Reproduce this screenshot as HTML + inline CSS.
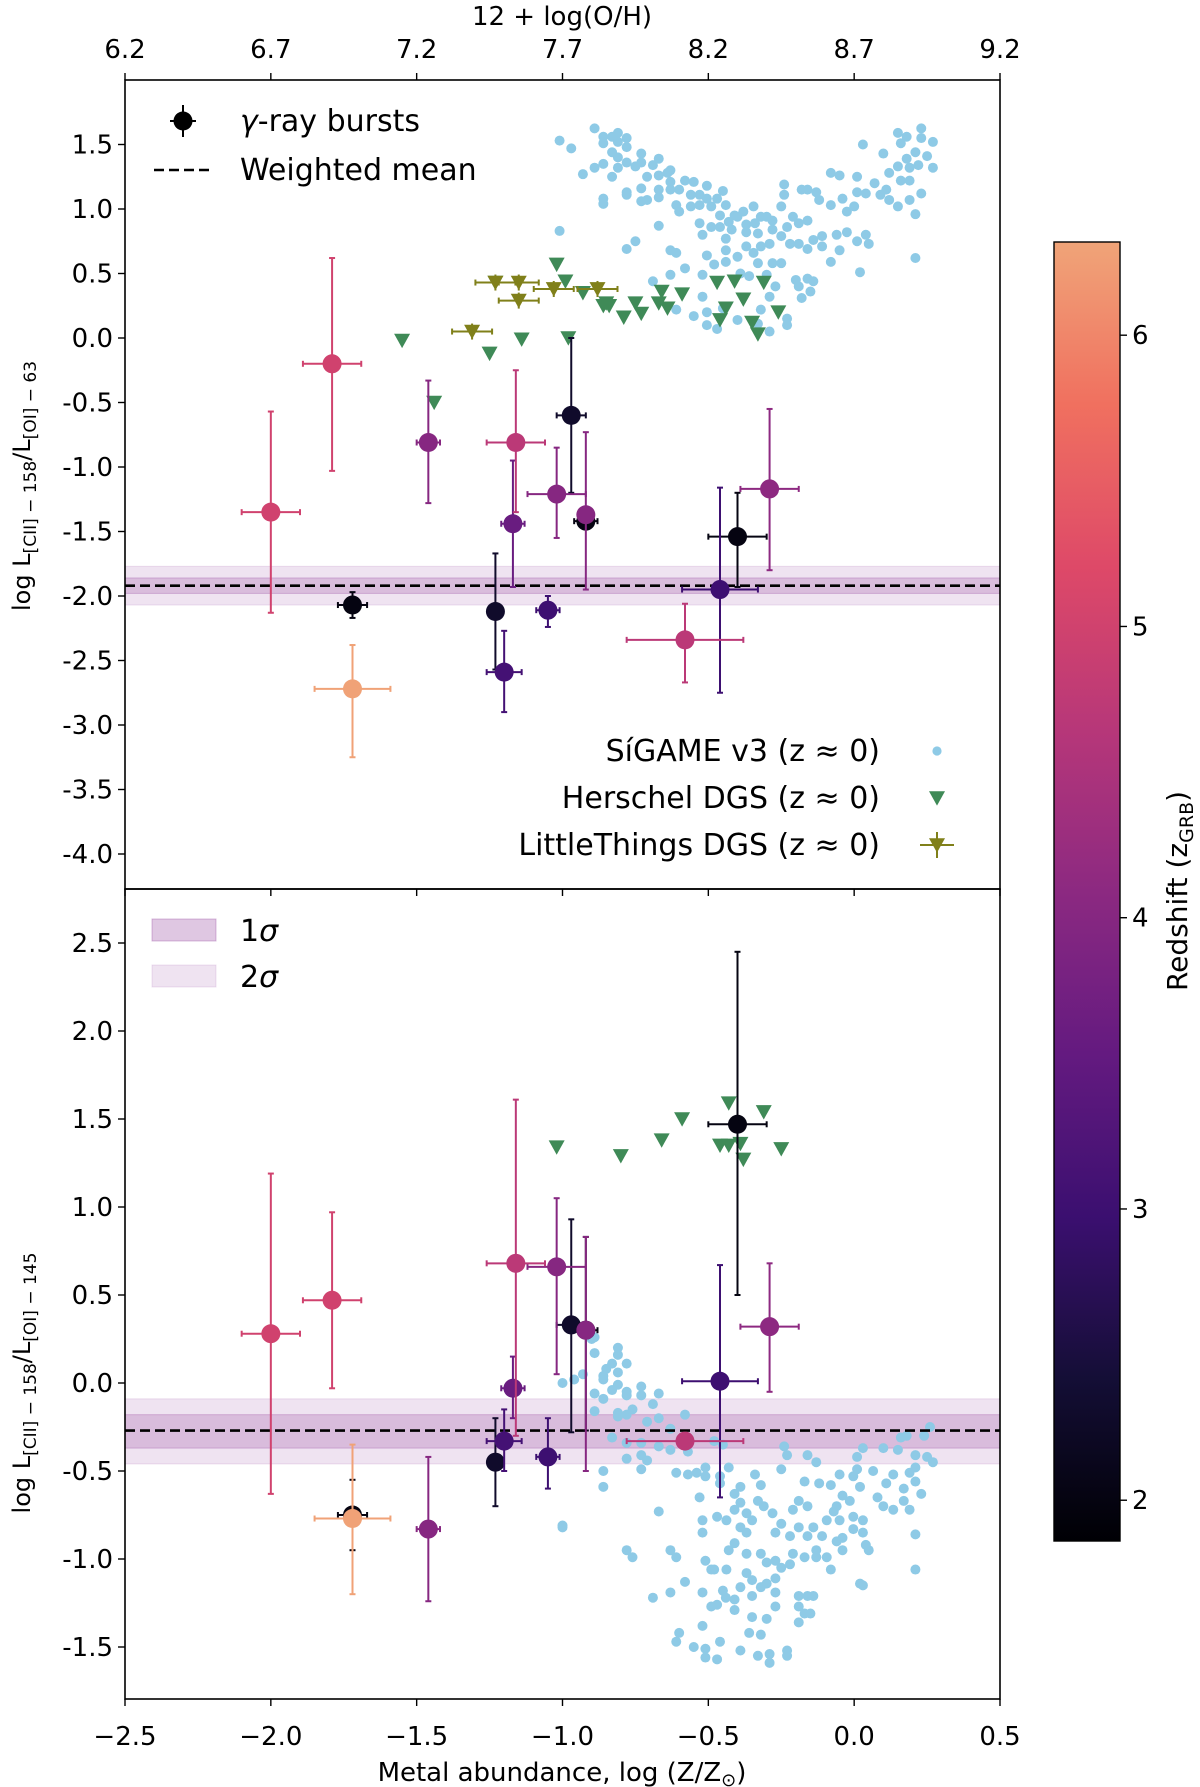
<!DOCTYPE html>
<html><head><meta charset="utf-8"><style>
html,body{margin:0;padding:0;background:#fff;}
svg{display:block;font-family:"DejaVu Sans","Liberation Sans",sans-serif;}
</style></head><body>
<svg id="chart" width="1200" height="1787" viewBox="0 0 1200 1787" xmlns="http://www.w3.org/2000/svg">
<g id="layer-bands"></g>
<g id="layer-sigame"></g>
<g id="layer-dgs"></g>
<g id="layer-grb"></g>
<g id="layer-axes"></g>
</svg>
<script>
// ---------- data ----------
const topXTicks=[6.2,6.7,7.2,7.7,8.2,8.7,9.2];
const xTicks=[-2.5,-2.0,-1.5,-1.0,-0.5,0.0,0.5];
const xTickLabels=["\u22122.5","\u22122.0","\u22121.5","\u22121.0","\u22120.5","0.0","0.5"];
const topYTicks=[1.5,1.0,0.5,0.0,-0.5,-1.0,-1.5,-2.0,-2.5,-3.0,-3.5,-4.0];
const botYTicks=[2.5,2.0,1.5,1.0,0.5,0.0,-0.5,-1.0,-1.5];
const cbTicks=[2,3,4,5,6];

// GRBs top panel
const grbTopX=[-2.0,-1.79,-1.72,-1.72,-1.46,-1.23,-1.2,-1.17,-1.16,-1.05,-1.02,-0.97,-0.92,-0.92,-0.58,-0.46,-0.4,-0.29];
const grbTopY=[-1.35,-0.2,-2.07,-2.72,-0.81,-2.12,-2.59,-1.44,-0.81,-2.11,-1.21,-0.6,-1.42,-1.37,-2.34,-1.95,-1.54,-1.17];
const grbTopXerr=[0.1,0.1,0.05,0.13,0.04,0.02,0.06,0.04,0.1,0.04,0.1,0.05,0.04,0.02,0.2,0.13,0.1,0.1];
const grbTopYlo=[-2.13,-1.03,-2.17,-3.25,-1.28,-2.57,-2.9,-1.93,-1.35,-2.24,-1.55,-1.2,-1.46,-1.95,-2.67,-2.75,-1.93,-1.8];
const grbTopYhi=[-0.57,0.62,-1.97,-2.38,-0.33,-1.67,-2.27,-0.95,-0.25,-2.0,-0.85,0.0,-1.38,-0.73,-2.06,-1.16,-1.2,-0.55];
const grbTopZ=[5.0,5.0,2.0,6.3,4.0,2.3,3.1,3.6,4.7,3.0,4.0,2.3,2.0,4.0,4.7,3.0,2.0,4.1];

// GRBs bottom panel
const grbBotX=[-2.0,-1.79,-1.72,-1.72,-1.46,-1.23,-1.2,-1.17,-1.16,-1.05,-1.02,-0.97,-0.92,-0.92,-0.58,-0.46,-0.4,-0.29];
const grbBotY=[0.28,0.47,-0.75,-0.77,-0.83,-0.45,-0.33,-0.03,0.68,-0.42,0.66,0.33,0.3,0.3,-0.33,0.01,1.47,0.32];
const grbBotXerr=[0.1,0.1,0.05,0.13,0.04,0.02,0.06,0.04,0.1,0.04,0.1,0.05,0.04,0.02,0.2,0.13,0.1,0.1];
const grbBotYlo=[-0.63,-0.03,-0.95,-1.2,-1.24,-0.7,-0.5,-0.2,-0.3,-0.6,0.05,-0.28,-0.27,-0.5,-0.35,-0.65,0.5,-0.05];
const grbBotYhi=[1.19,0.97,-0.55,-0.35,-0.42,-0.2,-0.15,0.15,1.61,-0.2,1.05,0.93,0.83,0.83,-0.31,0.67,2.45,0.68];
const grbBotZ=[5.0,5.0,2.0,6.3,4.0,2.3,3.1,3.6,4.7,3.0,4.0,2.3,2.0,4.0,4.7,3.0,2.0,4.1];

// weighted means and bands
const meanTop=-1.92, sig1Top=[-1.98,-1.86], sig2Top=[-2.07,-1.77];
const meanBot=-0.27, sig1Bot=[-0.37,-0.18], sig2Bot=[-0.46,-0.09];

// Herschel DGS
const hTopX=[-1.55,-1.44,-1.25,-1.23,-1.14,-1.02,-0.99,-0.98,-0.93,-0.85,-0.79,-0.67,-0.64,-0.59,-0.47,-0.44,-0.41,-0.38,-0.35,-0.31,-0.26,-0.46,-0.33,-0.86,-0.84,-0.75,-0.73,-0.66];
const hTopY=[-0.02,-0.5,-0.12,0.43,-0.01,0.57,0.44,0.0,0.35,0.27,0.16,0.27,0.23,0.34,0.43,0.23,0.44,0.3,0.12,0.43,0.2,0.14,0.03,0.25,0.25,0.27,0.19,0.36];
const hBotX=[-1.02,-0.8,-0.66,-0.59,-0.43,-0.46,-0.43,-0.38,-0.31,-0.25,-0.39];
const hBotY=[1.34,1.29,1.38,1.5,1.59,1.35,1.35,1.27,1.54,1.33,1.36];
// LittleThings DGS
const ltX=[-1.31,-1.23,-1.15,-1.15,-1.03,-0.88];
const ltY=[0.05,0.43,0.43,0.29,0.38,0.38];

// SiGAME v3 top panel
const sgTopX=[-1.01,-0.97,-0.89,-0.86,-0.86,-0.83,-0.81,-0.81,-0.78,-0.78,-0.83,-0.81,-0.89,-0.86,-0.93,-0.83,-0.81,-0.78,-0.75,-0.73,-0.73,-0.71,-0.69,-0.67,-0.67,-0.64,-0.63,-0.73,-0.71,-0.73,-0.78,-0.78,-0.86,-0.86,-0.67,-0.67,-0.63,-0.63,-0.58,-0.55,-0.505,-0.45,-0.6,-0.56,-0.53,-0.61,-0.6,-0.56,-0.53,-0.49,-0.47,-0.44,-0.46,-0.505,-0.53,-0.52,-0.49,-0.46,-0.43,-0.42,-0.41,-0.38,-0.4,-0.37,-0.345,-0.32,-0.34,-0.3,-0.28,-0.25,-0.24,-0.24,-0.21,-0.19,-0.16,-0.18,-0.16,-0.13,-0.12,-0.08,-0.08,-0.05,-0.04,-0.025,0.0,0.01,0.01,0.04,0.07,0.09,0.11,0.12,0.15,0.1,0.12,0.15,0.16,0.18,0.15,0.16,0.18,0.19,0.21,0.23,0.23,0.27,0.25,0.27,0.19,0.22,0.23,0.19,0.03,0.21,0.21,-0.37,-0.33,-0.28,-0.25,-0.23,-0.22,-0.19,-0.16,-0.14,-0.11,-0.11,-0.06,-0.05,-0.025,0.01,0.04,0.05,-0.08,0.02,-0.37,-0.345,-0.32,-0.29,-0.28,-0.25,-0.33,-0.44,-0.44,-0.44,-0.4,-0.48,-0.505,-0.58,-0.63,-0.61,-0.63,-0.69,-0.52,-0.39,-0.36,-0.3,-0.27,-0.2,-0.16,-0.14,-0.15,-0.19,-0.18,-0.23,-0.23,-0.29,-0.29,-0.32,-0.33,-0.4,-0.45,-0.505,-0.505,-0.47,-0.55,-0.61,-0.52,-0.78,-0.75,-0.67,-1.01];
const sgTopY=[1.53,1.47,1.625,1.56,1.51,1.56,1.59,1.52,1.55,1.48,1.44,1.4,1.32,1.35,1.27,1.25,1.32,1.36,1.33,1.43,1.36,1.25,1.34,1.39,1.26,1.28,1.3,1.16,1.07,1.06,1.13,1.11,1.08,1.04,1.15,1.09,1.21,1.15,1.22,1.21,1.18,1.14,1.15,1.11,1.11,1.03,0.98,1.02,1.03,1.02,1.08,1.03,0.95,1.08,0.89,0.8,0.86,0.86,0.9,0.84,0.95,0.98,0.94,0.88,1.02,0.94,0.89,0.94,0.91,1.02,1.19,1.11,0.94,0.89,0.91,1.15,1.15,1.13,1.07,1.03,1.28,1.26,1.08,0.98,1.02,1.25,1.13,1.12,1.2,1.11,1.15,1.07,1.02,1.43,1.28,1.59,1.51,1.56,1.33,1.22,1.39,1.22,1.44,1.625,1.55,1.52,1.41,1.32,1.32,1.34,1.12,1.07,1.5,0.96,0.62,0.82,0.81,0.84,0.79,0.86,0.73,0.73,0.69,0.76,0.79,0.71,0.8,0.68,0.82,0.75,0.8,0.73,0.59,0.51,0.71,0.66,0.71,0.73,0.58,0.58,0.58,0.77,0.68,0.59,0.63,0.57,0.64,0.54,0.68,0.66,0.49,0.44,0.49,0.5,0.48,0.49,0.4,0.45,0.46,0.44,0.36,0.4,0.31,0.15,0.1,0.32,0.05,0.22,0.11,0.14,0.23,0.2,0.1,0.07,0.17,0.22,0.32,0.69,0.75,0.87,0.83];

// SiGAME v3 bottom panel
const sgBotX=[-0.81,-0.81,-0.83,-0.78,-0.81,-0.86,-0.86,-0.83,-0.81,-0.78,-0.78,-0.73,-0.73,-0.67,-0.86,-0.89,-0.81,-0.78,-0.76,-0.71,-0.69,-0.67,-0.63,-0.58,-0.83,-0.78,-0.73,-0.67,-0.63,-0.57,-0.78,-0.73,-0.71,-0.73,-0.86,-0.86,-0.61,-0.57,-0.54,-0.51,-0.51,-0.45,-0.48,-0.43,-0.46,-0.46,-0.41,-0.39,-0.34,-0.32,-0.25,-0.24,-0.23,-0.16,-0.13,-0.17,-0.12,-0.08,-0.05,0.01,0.03,0.01,0.065,0.1,0.15,0.16,0.18,0.24,0.26,0.21,0.25,0.27,0.21,0.19,0.134,0.11,0.08,0.1,0.134,0.17,0.19,0.17,0.21,0.23,0.21,0.21,0.02,-0.003,-0.015,-0.04,-0.06,-0.07,-0.05,-0.003,0.03,-0.003,0.03,-0.04,-0.06,-0.04,0.04,0.05,-0.094,-0.11,-0.13,-0.14,-0.16,-0.19,-0.21,-0.19,-0.16,-0.21,-0.17,-0.13,-0.094,-0.08,-0.22,-0.27,-0.25,-0.28,-0.31,-0.33,-0.35,-0.369,-0.39,-0.43,-0.41,-0.369,-0.32,-0.3,-0.27,-0.25,-0.22,-0.27,-0.3,-0.32,-0.35,-0.369,-0.39,-0.438,-0.48,-0.51,-0.52,-0.52,-0.47,-0.438,-0.41,-0.369,-0.39,-0.35,-0.35,-0.3,-0.27,-0.27,-0.19,-0.16,-0.14,-0.19,-0.17,-0.15,-0.19,0.02,0.03,-0.36,-0.32,-0.39,-0.33,-0.29,-0.29,-0.23,-0.23,-0.46,-0.47,-0.51,-0.51,-0.55,-0.6,-0.61,-0.52,-0.52,-0.47,-0.49,-0.44,-0.41,-0.41,-0.45,-0.49,-0.58,-0.63,-0.69,-0.78,-0.76,-0.63,-0.61,-0.67,-0.53,-1.0,-1.0,-0.96,-0.89,-0.9,-0.89,-0.85,-0.93,-0.89,-1.0,-0.81];
const sgBotY=[0.2,0.16,0.11,0.11,0.06,0.04,0.02,-0.04,-0.01,-0.05,-0.07,-0.02,-0.07,-0.06,-0.09,-0.16,-0.19,-0.18,-0.15,-0.22,-0.12,-0.2,-0.26,-0.18,-0.31,-0.34,-0.34,-0.36,-0.38,-0.39,-0.43,-0.41,-0.44,-0.49,-0.5,-0.59,-0.51,-0.52,-0.51,-0.48,-0.53,-0.35,-0.33,-0.48,-0.53,-0.57,-0.63,-0.59,-0.52,-0.58,-0.49,-0.36,-0.41,-0.41,-0.45,-0.56,-0.57,-0.58,-0.52,-0.49,-0.37,-0.42,-0.5,-0.37,-0.38,-0.31,-0.3,-0.3,-0.25,-0.41,-0.42,-0.45,-0.48,-0.51,-0.52,-0.57,-0.65,-0.7,-0.72,-0.67,-0.72,-0.6,-0.56,-0.63,-0.86,-1.06,-0.59,-0.53,-0.67,-0.64,-0.7,-0.73,-0.78,-0.76,-0.78,-0.83,-0.85,-0.88,-0.9,-0.95,-0.92,-0.95,-0.78,-0.87,-0.95,-0.82,-0.7,-0.67,-0.72,-0.82,-0.87,-0.97,-0.99,-0.99,-0.99,-1.06,-0.87,-0.85,-0.8,-0.74,-0.7,-0.67,-0.78,-0.85,-0.82,-0.95,-0.91,-0.97,-0.97,-1.02,-1.01,-1.05,-1.03,-1.11,-1.14,-1.16,-1.12,-1.08,-1.16,-1.06,-1.06,-1.01,-0.85,-0.78,-0.76,-0.78,-0.72,-0.74,-0.68,-1.21,-1.33,-1.34,-1.27,-1.19,-1.21,-1.21,-1.21,-1.27,-1.31,-1.31,-1.36,-1.14,-1.15,-1.42,-1.43,-1.52,-1.55,-1.54,-1.59,-1.52,-1.55,-1.47,-1.57,-1.51,-1.56,-1.5,-1.42,-1.47,-1.38,-1.19,-1.26,-1.27,-1.22,-1.23,-1.29,-1.18,-1.06,-1.13,-1.19,-1.22,-0.95,-0.99,-0.95,-0.99,-0.73,-0.65,-0.82,0.0,0.02,0.26,0.25,0.17,0.08,0.05,-0.06,-0.81,-0.17];

// ---------- geometry ----------
const L=125,R=1000,TT=80,MID=889,BB=1699;
const sx=v=>L+(v+2.5)*(R-L)/3;
const sxTop=v=>L+(v-6.2)*(R-L)/3;
const syT=v=>338-v*129;
const syB=v=>1647-(v+1.5)*176;
const CBX=1054,CBW=66,CBT=242,CBB=1541,ZMIN=1.86,ZMAX=6.32;
const czy=z=>CBB-(z-ZMIN)/(ZMAX-ZMIN)*(CBB-CBT);

const magma=[[0,0,0,4],[0.1,20,14,54],[0.2,59,15,112],[0.3,100,26,128],[0.4,140,41,129],[0.5,183,55,121],[0.6,222,73,104],[0.7,240,112,95],[0.8,240,164,120]];
function cmap(t){t=Math.max(0,Math.min(0.8,t));for(let i=1;i<magma.length;i++){if(t<=magma[i][0]){const a=magma[i-1],b=magma[i],f=(t-a[0])/(b[0]-a[0]);return `rgb(${[1,2,3].map(k=>Math.round(a[k]+(b[k]-a[k])*f)).join(',')})`;}}return 'rgb(240,164,120)';}
const zcol=z=>cmap(0.8*(z-ZMIN)/(ZMAX-ZMIN));

const NS='http://www.w3.org/2000/svg';
function mk(tag,attrs,parent){const e=document.createElementNS(NS,tag);for(const k in attrs)e.setAttribute(k,attrs[k]);parent.appendChild(e);return e;}
const gBands=document.getElementById('layer-bands'),gSg=document.getElementById('layer-sigame'),gDgs=document.getElementById('layer-dgs'),gGrb=document.getElementById('layer-grb'),gAx=document.getElementById('layer-axes');

// bands
function band(sy,s2,s1,m,nm){
  let r=mk('rect',{x:L,y:sy(s2[1]),width:R-L,height:sy(s2[0])-sy(s2[1]),fill:'rgb(150,70,160)','fill-opacity':0.15,stroke:'rgb(150,70,160)','stroke-opacity':0.15},gBands);
  
  
  r=mk('rect',{x:L,y:sy(s1[1]),width:R-L,height:sy(s1[0])-sy(s1[1]),fill:'rgb(150,70,160)','fill-opacity':0.25,stroke:'rgb(150,70,160)','stroke-opacity':0.3},gBands);
  
  
  const l=mk('line',{x1:L,x2:R,y1:sy(m),y2:sy(m),stroke:'#000','stroke-width':2.6,'stroke-dasharray':'10,5'},gGrb);
  
  
}
band(syT,sig2Top,sig1Top,meanTop,'top');
band(syB,sig2Bot,sig1Bot,meanBot,'bottom');

// sigame
function sig(xs,ys,sy,nm){for(let i=0;i<xs.length;i++){const c=mk('circle',{cx:sx(xs[i]),cy:sy(ys[i]),r:5,fill:'#8ecae6'},gSg);
  
  }}
sig(sgTopX,sgTopY,syT,'sigame-point-top');
sig(sgBotX,sgBotY,syB,'sigame-point-bottom');

// triangles
function tri(cx,cy,s,fill,parent){return mk('path',{d:`M${cx-s},${cy-s*0.85}L${cx+s},${cy-s*0.85}L${cx},${cy+s*0.95}Z`,fill:fill},parent);}
for(let i=0;i<hTopX.length;i++){const t=tri(sx(hTopX[i]),syT(hTopY[i]),8,'#3f8a57',gDgs);
  
  }
for(let i=0;i<hBotX.length;i++){const t=tri(sx(hBotX[i]),syB(hBotY[i]),8,'#3f8a57',gDgs);
  
  }
for(let i=0;i<ltX.length;i++){const cx=sx(ltX[i]),cy=syT(ltY[i]);const g=mk('g',{},gDgs);
  
  
  mk('line',{x1:cx-20,x2:cx+20,y1:cy,y2:cy,stroke:'#80801a','stroke-width':2},g);
  mk('line',{x1:cx-20,x2:cx-20,y1:cy-3,y2:cy+3,stroke:'#80801a','stroke-width':2},g);
  mk('line',{x1:cx+20,x2:cx+20,y1:cy-3,y2:cy+3,stroke:'#80801a','stroke-width':2},g);
  mk('line',{x1:cx,x2:cx,y1:cy-8,y2:cy+8,stroke:'#80801a','stroke-width':2},g);
  tri(cx,cy,8,'#80801a',g);}

// GRBs
function grbs(X,Y,XE,YL,YH,Z,sy,nm){
  const order=X.map((_,i)=>i).sort((a,b)=>Z[a]-Z[b]);
  for(const i of order){const c=zcol(Z[i]);const cx=sx(X[i]),cy=sy(Y[i]);const g=mk('g',{},gGrb);
    
    
    const x1=sx(X[i]-XE[i]),x2=sx(X[i]+XE[i]),y1=sy(YH[i]),y2=sy(YL[i]);
    mk('line',{x1:x1,x2:x2,y1:cy,y2:cy,stroke:c,'stroke-width':2},g);
    mk('line',{x1:x1,x2:x1,y1:cy-3,y2:cy+3,stroke:c,'stroke-width':2},g);
    mk('line',{x1:x2,x2:x2,y1:cy-3,y2:cy+3,stroke:c,'stroke-width':2},g);
    mk('line',{x1:cx,x2:cx,y1:y1,y2:y2,stroke:c,'stroke-width':2},g);
    mk('line',{x1:cx-3,x2:cx+3,y1:y1,y2:y1,stroke:c,'stroke-width':2},g);
    mk('line',{x1:cx-3,x2:cx+3,y1:y2,y2:y2,stroke:c,'stroke-width':2},g);
    mk('circle',{cx:cx,cy:cy,r:9.5,fill:c},g);}
}
grbs(grbTopX,grbTopY,grbTopXerr,grbTopYlo,grbTopYhi,grbTopZ,syT,'grb-point-top');
grbs(grbBotX,grbBotY,grbBotXerr,grbBotYlo,grbBotYhi,grbBotZ,syB,'grb-point-bottom');

// axes frames
function txt(x,y,s,attrs,nm){const t=mk('text',Object.assign({x:x,y:y,'font-size':25,fill:'#000'},attrs||{}),gAx);t.textContent=s;
  
  return t;}
let fr=mk('rect',{x:L,y:TT,width:R-L,height:MID-TT,fill:'none',stroke:'#000','stroke-width':1.6},gAx);


fr=mk('rect',{x:L,y:MID,width:R-L,height:BB-MID,fill:'none',stroke:'#000','stroke-width':1.6},gAx);


topXTicks.forEach(v=>{const x=sxTop(v);mk('line',{x1:x,x2:x,y1:TT,y2:TT-7,stroke:'#000','stroke-width':1.4},gAx);txt(x,58,v.toFixed(1),{'text-anchor':'middle','font-size':26},'top-x-tick-label');});
xTicks.forEach((v,i)=>{const x=sx(v);mk('line',{x1:x,x2:x,y1:BB,y2:BB+7,stroke:'#000','stroke-width':1.4},gAx);mk('line',{x1:x,x2:x,y1:MID,y2:MID+7,stroke:'#000','stroke-width':1.4},gAx);txt(x,1745,xTickLabels[i],{'text-anchor':'middle','font-size':26},'x-tick-label');});
topYTicks.forEach(v=>{const y=syT(v);mk('line',{x1:L,x2:L-7,y1:y,y2:y,stroke:'#000','stroke-width':1.4},gAx);txt(L-12,y+9,v.toFixed(1).replace('-0.0','0.0'),{'text-anchor':'end','font-size':26},'top-y-tick-label');});
botYTicks.forEach(v=>{const y=syB(v);mk('line',{x1:L,x2:L-7,y1:y,y2:y,stroke:'#000','stroke-width':1.4},gAx);txt(L-12,y+9,v.toFixed(1),{'text-anchor':'end','font-size':26},'bottom-y-tick-label');});
txt(562,25,'12 + log(O/H)',{'text-anchor':'middle','font-size':26},'top-x-axis-title');
const xt=txt(562,1781,'',{'text-anchor':'middle','font-size':26},'x-axis-title');
xt.innerHTML='Metal abundance, log (Z/Z<tspan font-size="18" dy="5">\u2299</tspan><tspan dy="-5">)</tspan>';
const yt1=txt(0,0,'',{'text-anchor':'middle','font-size':24,transform:'translate(30,486) rotate(-90)'},'top-y-axis-title');
yt1.innerHTML='log L<tspan font-size="17" dy="6">[CII] \u2212 158</tspan><tspan dy="-6">/L</tspan><tspan font-size="17" dy="6">[OI] \u2212 63</tspan>';
const yt2=txt(0,0,'',{'text-anchor':'middle','font-size':24,transform:'translate(30,1383) rotate(-90)'},'bottom-y-axis-title');
yt2.innerHTML='log L<tspan font-size="17" dy="6">[CII] \u2212 158</tspan><tspan dy="-6">/L</tspan><tspan font-size="17" dy="6">[OI] \u2212 145</tspan>';

// legends
const lg=mk('g',{},gAx);


mk('line',{x1:170,x2:196,y1:121,y2:121,stroke:'#000','stroke-width':2},lg);
mk('line',{x1:183,x2:183,y1:105,y2:137,stroke:'#000','stroke-width':2},lg);
mk('circle',{cx:183,cy:121,r:9.5,fill:'#000'},lg);
mk('line',{x1:154,x2:214,y1:170,y2:170,stroke:'#000','stroke-width':2.6,'stroke-dasharray':'10,5'},lg);
txt(240,131,'',{'font-size':30},'legend-grb-label').innerHTML='<tspan font-style="italic">\u03b3</tspan>-ray bursts';
txt(240,180,'Weighted mean',{'font-size':30},'legend-weighted-mean-label');
txt(880,761,'S\u00edGAME v3 (z \u2248 0)',{'font-size':30,'text-anchor':'end'},'legend-sigame-label');
txt(880,808,'Herschel DGS (z \u2248 0)',{'font-size':30,'text-anchor':'end'},'legend-herschel-label');
txt(880,855,'LittleThings DGS (z \u2248 0)',{'font-size':30,'text-anchor':'end'},'legend-littlethings-label');
mk('circle',{cx:937,cy:751,r:4.6,fill:'#8ecae6'},gAx);
tri(937,798,8,'#3f8a57',gAx);
mk('line',{x1:920,x2:954,y1:845,y2:845,stroke:'#80801a','stroke-width':2},gAx);
mk('line',{x1:937,x2:937,y1:832,y2:858,stroke:'#80801a','stroke-width':2},gAx);
tri(937,845,8,'#80801a',gAx);
let p=mk('rect',{x:152,y:919,width:64,height:22,fill:'rgb(150,70,160)','fill-opacity':0.3,stroke:'rgb(150,70,160)','stroke-opacity':0.35},gAx);


p=mk('rect',{x:152,y:965,width:64,height:22,fill:'rgb(150,70,160)','fill-opacity':0.15,stroke:'rgb(150,70,160)','stroke-opacity':0.15},gAx);


txt(240,941,'',{'font-size':30},'legend-1sigma-label').innerHTML='1<tspan font-style="italic">\u03c3</tspan>';
txt(240,987,'',{'font-size':30},'legend-2sigma-label').innerHTML='2<tspan font-style="italic">\u03c3</tspan>';

// colorbar
const defs=mk('defs',{},gAx);const lgd=mk('linearGradient',{id:'cbg',x1:0,y1:1,x2:0,y2:0},defs);
for(let i=0;i<=16;i++){mk('stop',{offset:i/16,'stop-color':cmap(0.8*i/16)},lgd);}
const cb=mk('rect',{x:CBX,y:CBT,width:CBW,height:CBB-CBT,fill:'url(#cbg)',stroke:'#000','stroke-width':1.4},gAx);


cbTicks.forEach(z=>{const y=czy(z);mk('line',{x1:CBX+CBW,x2:CBX+CBW+7,y1:y,y2:y,stroke:'#000','stroke-width':1.4},gAx);txt(CBX+CBW+12,y+9,String(z),{'font-size':26},'colorbar-tick-label');});
const cbl=txt(0,0,'',{'text-anchor':'middle','font-size':28,transform:'translate(1187,891) rotate(-90)'},'colorbar-title');
cbl.innerHTML='Redshift (z<tspan font-size="19" dy="6">GRB</tspan><tspan dy="-6">)</tspan>';
</script>
</body></html>
